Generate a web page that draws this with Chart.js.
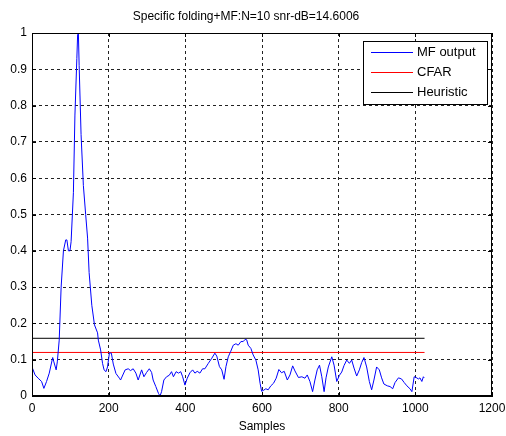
<!DOCTYPE html>
<html>
<head>
<meta charset="utf-8">
<script src="https://cdn.jsdelivr.net/npm/chart.js@4/dist/chart.umd.min.js"></script>
<style>
html,body{margin:0;padding:0;background:#fff;}
#wrap{width:506px;height:436px;position:relative;}
</style>
</head>
<body>
<div id="wrap"><canvas id="c" width="506" height="436"></canvas></div>
<script>
const chartTitle = "Specific folding+MF:N=10 snr-dB=14.6006";
const xLabel = "Samples";
const seriesNames = ["MF output", "CFAR", "Heuristic"];
const xTicks = [0, 200, 400, 600, 800, 1000, 1200];
const yTicks = [0, 0.1, 0.2, 0.3, 0.4, 0.5, 0.6, 0.7, 0.8, 0.9, 1];
const samples = [0,8,16,25,31,38,45,54,57,63,66,71,76,82,88,91,95,99,102,108,112,117,119,121,123,128,134,140,145,149,156,163,171,173,179,184,188,193,197,202,207,212,219,228,231,243,251,257,264,271,277,286,292,299,306,312,316,323,330,334,338,344,351,358,364,369,376,382,388,393,399,405,412,419,425,431,438,445,451,460,469,477,482,489,495,501,506,512,518,525,532,538,545,551,556,560,564,571,577,584,590,595,599,603,610,616,623,630,637,644,651,658,666,673,680,686,695,704,712,718,725,732,738,744,750,756,762,767,773,782,788,795,802,808,814,821,828,834,840,847,854,860,866,873,880,886,892,899,906,912,918,927,934,941,947,956,964,971,978,986,991,997,1002,1008,1012,1017,1021,1023];
const mfOutput = [0.08,0.058,0.049,0.04,0.021,0.04,0.063,0.106,0.094,0.072,0.094,0.154,0.30,0.40,0.43,0.43,0.40,0.40,0.425,0.56,0.774,0.93,0.995,1.0,0.91,0.72,0.58,0.50,0.435,0.34,0.25,0.196,0.174,0.154,0.127,0.09,0.072,0.067,0.08,0.119,0.118,0.088,0.062,0.049,0.044,0.072,0.075,0.07,0.075,0.063,0.044,0.072,0.053,0.065,0.075,0.065,0.044,0.026,0.007,0.0,0.012,0.044,0.053,0.057,0.067,0.053,0.067,0.063,0.067,0.053,0.03,0.049,0.064,0.072,0.063,0.068,0.063,0.075,0.075,0.09,0.104,0.118,0.11,0.081,0.072,0.046,0.081,0.108,0.122,0.14,0.144,0.14,0.15,0.15,0.156,0.155,0.14,0.131,0.113,0.099,0.072,0.035,0.013,0.015,0.02,0.017,0.028,0.035,0.049,0.073,0.064,0.068,0.044,0.058,0.083,0.069,0.051,0.053,0.049,0.058,0.04,0.012,0.044,0.072,0.085,0.053,0.012,0.05,0.08,0.108,0.085,0.04,0.057,0.066,0.084,0.099,0.09,0.099,0.077,0.055,0.072,0.092,0.106,0.08,0.04,0.017,0.044,0.08,0.072,0.05,0.033,0.028,0.026,0.02,0.037,0.05,0.047,0.037,0.028,0.02,0.012,0.053,0.051,0.047,0.05,0.04,0.053,0.05];
const thresholdX = [0, 1024];
const cfarLevel = [0.12, 0.12];
const heuristicLevel = [0.159, 0.159];

const FONT = "'Liberation Sans', Arial, sans-serif";
const colors = ["#0000ff", "#ff0000", "#000000"];

const boxPlugin = {
  id: 'box',
  afterDatasetsDraw(chart) {
    const {ctx, chartArea: a} = chart;
    ctx.save();
    ctx.strokeStyle = '#000';
    ctx.lineWidth = 1;
    ctx.setLineDash([]);
    ctx.strokeRect(Math.round(a.left) + 0.5, Math.round(a.top) + 0.5, Math.round(a.right - a.left) - 1, Math.round(a.bottom - a.top) - 1);
    const xs = chart.scales.x, ys = chart.scales.y;
    ctx.beginPath();
    xTicks.forEach(v => {
      const px = Math.round(xs.getPixelForValue(v)) + 0.5;
      ctx.moveTo(px, a.bottom); ctx.lineTo(px, a.bottom - 4);
      ctx.moveTo(px, a.top); ctx.lineTo(px, a.top + 4);
    });
    yTicks.forEach(v => {
      const py = Math.round(ys.getPixelForValue(v)) + 0.5;
      ctx.moveTo(a.left, py); ctx.lineTo(a.left + 4, py);
      ctx.moveTo(a.right, py); ctx.lineTo(a.right - 4, py);
    });
    ctx.stroke();
    const lx = 363, ly = 41, lw = 124, lh = 63;
    ctx.fillStyle = '#fff';
    ctx.fillRect(lx, ly, lw, lh);
    ctx.strokeRect(lx + 0.5, ly + 0.5, lw, lh);
    ctx.font = '13px ' + FONT;
    ctx.textBaseline = 'middle';
    ctx.textAlign = 'left';
    chart.data.datasets.forEach((ds, i) => {
      const y = Math.round(52 + i * 20) + 0.5;
      ctx.strokeStyle = ds.borderColor;
      ctx.beginPath();
      ctx.moveTo(371, y); ctx.lineTo(413, y);
      ctx.stroke();
      ctx.fillStyle = '#000';
      ctx.fillText(ds.label, 417, y);
    });
    ctx.restore();
  }
};

new Chart(document.getElementById('c'), {
  type: 'line',
  data: {
    datasets: [
      { label: seriesNames[0], data: samples.map((x, i) => ({x, y: mfOutput[i]})), borderColor: colors[0], borderWidth: 1, pointRadius: 0, tension: 0 },
      { label: seriesNames[1], data: thresholdX.map((x, i) => ({x, y: cfarLevel[i]})), borderColor: colors[1], borderWidth: 1, pointRadius: 0 },
      { label: seriesNames[2], data: thresholdX.map((x, i) => ({x, y: heuristicLevel[i]})), borderColor: colors[2], borderWidth: 1, pointRadius: 0 }
    ]
  },
  options: {
    responsive: false,
    animation: false,
    layout: { padding: { left: 0, right: 14, top: 0, bottom: 0 } },
    plugins: {
      legend: { display: false },
      tooltip: { enabled: false },
      title: { display: true, text: chartTitle, color: '#000', font: { family: FONT, size: 12, weight: 'normal' }, padding: { top: 9, bottom: 9.6 } }
    },
    scales: {
      x: {
        type: 'linear', min: 0, max: 1200,
        afterBuildTicks(s) { s.ticks = xTicks.map(v => ({value: v})); },
        afterFit(s) { s.height = 40; s.paddingLeft = 0; s.paddingRight = 0; },
        grid: { color: '#222', lineWidth: 1, drawTicks: false },
        border: { display: true, color: '#000', dash: [3, 3] },
        ticks: { color: '#000', padding: 5, maxRotation: 0, font: { family: FONT, size: 12 }, callback: v => String(v) },
        title: { display: true, text: xLabel, color: '#000', font: { family: FONT, size: 12 }, padding: { top: 0, bottom: 2 } }
      },
      y: {
        type: 'linear', min: 0, max: 1,
        afterBuildTicks(s) { s.ticks = yTicks.map(v => ({value: v})); },
        afterFit(s) { s.width = 32; s.paddingTop = 0; s.paddingBottom = 0; },
        grid: { color: '#222', lineWidth: 1, drawTicks: false },
        border: { display: true, color: '#000', dash: [3, 3] },
        ticks: { color: '#000', padding: 5, font: { family: FONT, size: 12 }, callback: v => String(Math.round(v * 10) / 10) }
      }
    }
  },
  plugins: [boxPlugin]
});
</script>
</body>
</html>
